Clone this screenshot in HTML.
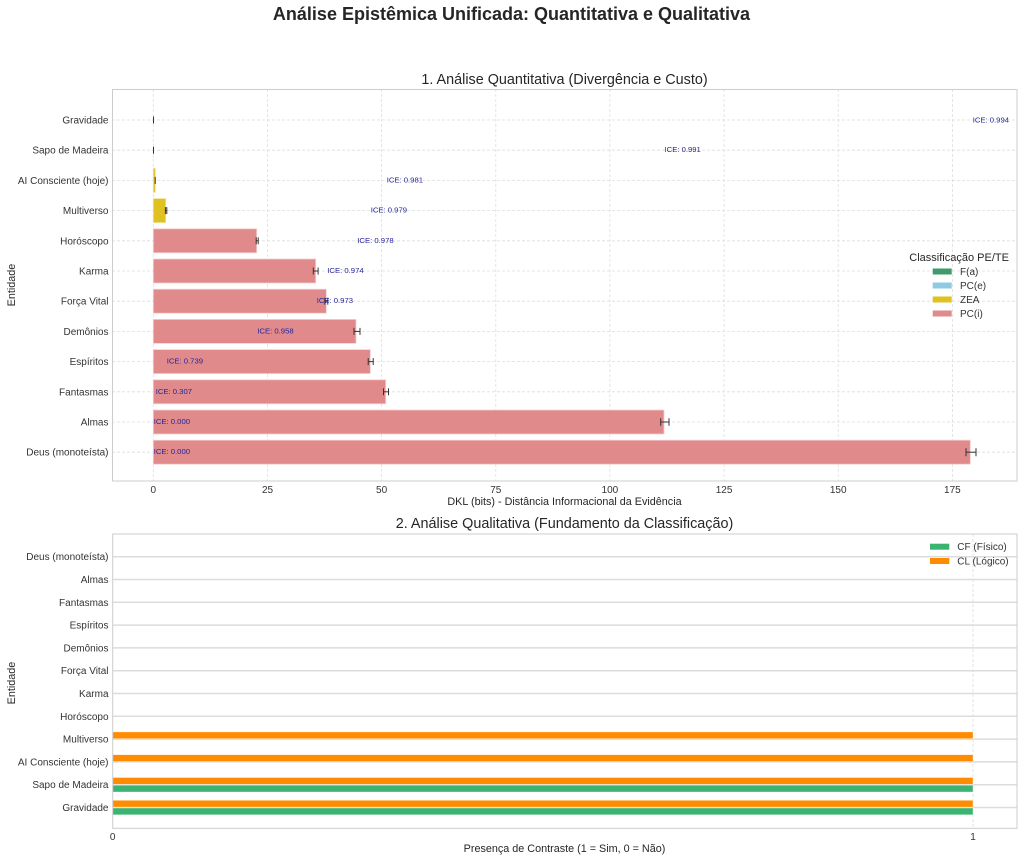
<!DOCTYPE html>
<html><head><meta charset="utf-8"><style>
html,body{margin:0;padding:0;background:#fff;}
svg{display:block;font-family:"Liberation Sans",Arial,sans-serif;}
</style></head><body>
<svg width="1023" height="860" viewBox="0 0 1023 860" xmlns="http://www.w3.org/2000/svg">
<rect width="1023" height="860" fill="#fff"/>
<text x="511.5" y="20" text-anchor="middle" font-size="18" font-weight="bold" fill="#262626">Análise Epistêmica Unificada: Quantitativa e Qualitativa</text>

<!-- TOP CHART -->
<text x="564.5" y="84" text-anchor="middle" font-size="14.4" fill="#262626">1. Análise Quantitativa (Divergência e Custo)</text>
<g stroke="#dedede" stroke-width="0.8" stroke-dasharray="3,2">
<line x1="153.3" y1="89" x2="153.3" y2="481"/><line x1="267.5" y1="89" x2="267.5" y2="481"/><line x1="381.6" y1="89" x2="381.6" y2="481"/><line x1="495.8" y1="89" x2="495.8" y2="481"/><line x1="609.9" y1="89" x2="609.9" y2="481"/><line x1="724.1" y1="89" x2="724.1" y2="481"/><line x1="838.2" y1="89" x2="838.2" y2="481"/><line x1="952.4" y1="89" x2="952.4" y2="481"/>
<line x1="112" y1="120" x2="1017" y2="120"/><line x1="112" y1="150.2" x2="1017" y2="150.2"/><line x1="112" y1="180.4" x2="1017" y2="180.4"/><line x1="112" y1="210.6" x2="1017" y2="210.6"/><line x1="112" y1="240.8" x2="1017" y2="240.8"/><line x1="112" y1="271" x2="1017" y2="271"/><line x1="112" y1="301.2" x2="1017" y2="301.2"/><line x1="112" y1="331.4" x2="1017" y2="331.4"/><line x1="112" y1="361.6" x2="1017" y2="361.6"/><line x1="112" y1="391.8" x2="1017" y2="391.8"/><line x1="112" y1="422" x2="1017" y2="422"/><line x1="112" y1="452.2" x2="1017" y2="452.2"/>
</g>
<g stroke="#f3d0d0" stroke-width="0.8">
<rect x="153.3" y="168.4" width="2" height="24" fill="#dfc11f" stroke="#f0e29a"/>
<rect x="153.3" y="198.6" width="12.4" height="24" fill="#dfc11f" stroke="#f0e29a"/>
<rect x="153.3" y="228.8" width="103.4" height="24" fill="#e08a8b"/>
<rect x="153.3" y="259" width="162.4" height="24" fill="#e08a8b"/>
<rect x="153.3" y="289.2" width="173" height="24" fill="#e08a8b"/>
<rect x="153.3" y="319.4" width="202.7" height="24" fill="#e08a8b"/>
<rect x="153.3" y="349.6" width="217" height="24" fill="#e08a8b"/>
<rect x="153.3" y="379.8" width="232.4" height="24" fill="#e08a8b"/>
<rect x="153.3" y="410" width="510.7" height="24" fill="#e08a8b"/>
<rect x="153.3" y="440.2" width="817" height="24" fill="#e08a8b"/>
</g>
<!-- error bars -->
<g stroke="#333" stroke-width="1">
<line x1="153.5" y1="116.5" x2="153.5" y2="123.5"/>
<line x1="153.5" y1="146.7" x2="153.5" y2="153.7"/>
<line x1="155.2" y1="176.9" x2="155.2" y2="183.9"/>
<line x1="165.4" y1="210.6" x2="166.8" y2="210.6"/><line x1="165.4" y1="207.1" x2="165.4" y2="214.1"/><line x1="166.8" y1="207.1" x2="166.8" y2="214.1"/>
<line x1="256.2" y1="240.8" x2="258.2" y2="240.8"/><line x1="256.2" y1="237.3" x2="256.2" y2="244.3"/><line x1="258.2" y1="237.3" x2="258.2" y2="244.3"/>
<line x1="313.3" y1="271" x2="318.1" y2="271"/><line x1="313.3" y1="267.5" x2="313.3" y2="274.5"/><line x1="318.1" y1="267.5" x2="318.1" y2="274.5"/>
<line x1="324.8" y1="301.2" x2="327.8" y2="301.2"/><line x1="324.8" y1="297.7" x2="324.8" y2="304.7"/><line x1="327.8" y1="297.7" x2="327.8" y2="304.7"/>
<line x1="354" y1="331.4" x2="360" y2="331.4"/><line x1="354" y1="327.9" x2="354" y2="334.9"/><line x1="360" y1="327.9" x2="360" y2="334.9"/>
<line x1="368.2" y1="361.6" x2="373.2" y2="361.6"/><line x1="368.2" y1="358.1" x2="368.2" y2="365.1"/><line x1="373.2" y1="358.1" x2="373.2" y2="365.1"/>
<line x1="383.5" y1="391.8" x2="388.5" y2="391.8"/><line x1="383.5" y1="388.3" x2="383.5" y2="395.3"/><line x1="388.5" y1="388.3" x2="388.5" y2="395.3"/>
<line x1="660.7" y1="422" x2="669" y2="422"/><line x1="660.7" y1="418.2" x2="660.7" y2="425.8"/><line x1="669" y1="418.2" x2="669" y2="425.8"/>
<line x1="966" y1="452.2" x2="976" y2="452.2"/><line x1="966" y1="448.2" x2="966" y2="456.2"/><line x1="976" y1="448.2" x2="976" y2="456.2"/>
</g>
<!-- ICE labels -->
<g font-size="7.7" fill="#25259a">
<text x="972.7" y="122.7">ICE: 0.994</text>
<text x="664.5" y="151.9">ICE: 0.991</text>
<text x="386.7" y="182.4">ICE: 0.981</text>
<text x="370.7" y="212.6">ICE: 0.979</text>
<text x="357.3" y="242.8">ICE: 0.978</text>
<text x="327.3" y="273">ICE: 0.974</text>
<text x="316.7" y="303.2">ICE: 0.973</text>
<text x="257.3" y="333.4">ICE: 0.958</text>
<text x="166.7" y="363.6">ICE: 0.739</text>
<text x="155.7" y="393.8">ICE: 0.307</text>
<text x="153.7" y="424">ICE: 0.000</text>
<text x="153.7" y="454.2">ICE: 0.000</text>
</g>
<rect x="112.5" y="89.5" width="904.5" height="391.5" fill="none" stroke="#cccccc" stroke-width="1"/>
<g font-size="10" fill="#333" text-anchor="end">
<text x="108.5" y="123.5">Gravidade</text>
<text x="108.5" y="153.7">Sapo de Madeira</text>
<text x="108.5" y="183.9">AI Consciente (hoje)</text>
<text x="108.5" y="214.1">Multiverso</text>
<text x="108.5" y="244.3">Horóscopo</text>
<text x="108.5" y="274.5">Karma</text>
<text x="108.5" y="304.7">Força Vital</text>
<text x="108.5" y="334.9">Demônios</text>
<text x="108.5" y="365.1">Espíritos</text>
<text x="108.5" y="395.3">Fantasmas</text>
<text x="108.5" y="425.5">Almas</text>
<text x="108.5" y="455.7">Deus (monoteísta)</text>
</g>
<g font-size="10" fill="#333" text-anchor="middle">
<text x="153.3" y="493">0</text><text x="267.5" y="493">25</text><text x="381.6" y="493">50</text><text x="495.8" y="493">75</text><text x="609.9" y="493">100</text><text x="724.1" y="493">125</text><text x="838.2" y="493">150</text><text x="952.4" y="493">175</text>
</g>
<text x="564.5" y="505" text-anchor="middle" font-size="10.8" fill="#262626">DKL (bits) - Distância Informacional da Evidência</text>
<text transform="translate(15,285) rotate(-90)" text-anchor="middle" font-size="10.8" fill="#262626">Entidade</text>
<!-- legend top -->
<text x="909.3" y="261" font-size="11" fill="#262626">Classificação PE/TE</text>
<rect x="932.7" y="268.5" width="19" height="6" fill="#419a6e"/>
<rect x="932.7" y="282.5" width="19" height="6" fill="#8fcae3"/>
<rect x="932.7" y="296.5" width="19" height="6" fill="#dfc11f"/>
<rect x="932.7" y="310.5" width="19" height="6" fill="#e08a8b"/>
<g font-size="10" fill="#333">
<text x="960" y="275">F(a)</text>
<text x="960" y="289">PC(e)</text>
<text x="960" y="303">ZEA</text>
<text x="960" y="317">PC(i)</text>
</g>

<!-- BOTTOM CHART -->
<text x="564.5" y="528" text-anchor="middle" font-size="14.4" fill="#262626">2. Análise Qualitativa (Fundamento da Classificação)</text>
<g stroke="#dcdcdc" stroke-width="1.5">
<line x1="112.7" y1="556.7" x2="1017" y2="556.7"/><line x1="112.7" y1="579.5" x2="1017" y2="579.5"/><line x1="112.7" y1="602.3" x2="1017" y2="602.3"/><line x1="112.7" y1="625.1" x2="1017" y2="625.1"/><line x1="112.7" y1="647.9" x2="1017" y2="647.9"/><line x1="112.7" y1="670.7" x2="1017" y2="670.7"/><line x1="112.7" y1="693.5" x2="1017" y2="693.5"/><line x1="112.7" y1="716.3" x2="1017" y2="716.3"/><line x1="112.7" y1="739.1" x2="1017" y2="739.1"/><line x1="112.7" y1="761.9" x2="1017" y2="761.9"/><line x1="112.7" y1="784.7" x2="1017" y2="784.7"/><line x1="112.7" y1="807.5" x2="1017" y2="807.5"/>
</g>
<line x1="973" y1="534" x2="973" y2="828" stroke="#dcdcdc" stroke-width="0.8" stroke-dasharray="3,2"/>
<g stroke="#ffffff" stroke-width="0.6" stroke-opacity="0.6">
<rect x="112.7" y="731.9" width="860.3" height="6.8" fill="#ff8c00"/>
<rect x="112.7" y="754.7" width="860.3" height="6.8" fill="#ff8c00"/>
<rect x="112.7" y="777.5" width="860.3" height="6.8" fill="#ff8c00"/>
<rect x="112.7" y="785.2" width="860.3" height="6.8" fill="#3cb371"/>
<rect x="112.7" y="800.3" width="860.3" height="6.8" fill="#ff8c00"/>
<rect x="112.7" y="808" width="860.3" height="6.8" fill="#3cb371"/>
</g>
<rect x="112.7" y="534" width="904.3" height="294.3" fill="none" stroke="#cccccc" stroke-width="1"/>
<g font-size="10" fill="#333" text-anchor="end">
<text x="108.5" y="560.2">Deus (monoteísta)</text>
<text x="108.5" y="583">Almas</text>
<text x="108.5" y="605.8">Fantasmas</text>
<text x="108.5" y="628.6">Espíritos</text>
<text x="108.5" y="651.4">Demônios</text>
<text x="108.5" y="674.2">Força Vital</text>
<text x="108.5" y="697">Karma</text>
<text x="108.5" y="719.8">Horóscopo</text>
<text x="108.5" y="742.6">Multiverso</text>
<text x="108.5" y="765.4">AI Consciente (hoje)</text>
<text x="108.5" y="788.2">Sapo de Madeira</text>
<text x="108.5" y="811">Gravidade</text>
</g>
<g font-size="10" fill="#333" text-anchor="middle">
<text x="112.7" y="840">0</text><text x="973" y="840">1</text>
</g>
<text x="564.5" y="852" text-anchor="middle" font-size="10.8" fill="#262626">Presença de Contraste (1 = Sim, 0 = Não)</text>
<text transform="translate(15,683) rotate(-90)" text-anchor="middle" font-size="10.8" fill="#262626">Entidade</text>
<!-- legend bottom -->
<rect x="930" y="543.7" width="19.3" height="6" fill="#3cb371"/>
<rect x="930" y="558" width="19.3" height="6" fill="#ff8c00"/>
<g font-size="10" fill="#333">
<text x="957.3" y="550.2">CF (Físico)</text>
<text x="957.3" y="564.5">CL (Lógico)</text>
</g>
</svg>
</body></html>
